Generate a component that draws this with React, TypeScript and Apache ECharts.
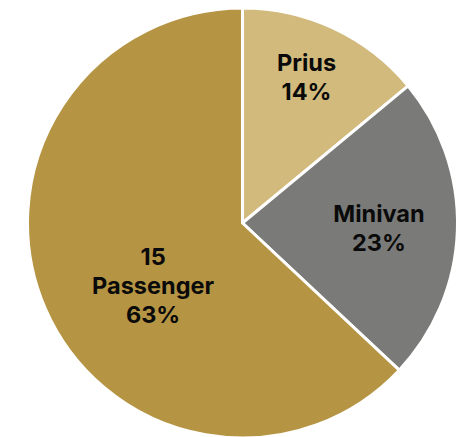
import React, { useEffect, useRef } from "react";
import * as echarts from "echarts";

const categories = ["Prius", "Minivan", "15\nPassenger"];
const values = [14, 23, 63];
const colors = ["#D2BA7D", "#7A7B79", "#B59543"];
const labelOffsets: number[][] = [[17, -46], [26, 2], [12, 19]];

export default function App() {
  const ref = useRef<HTMLDivElement>(null);
  useEffect(() => {
    if (!ref.current) return;
    const chart = echarts.init(ref.current, undefined, { renderer: "svg" });
    chart.setOption({
      animation: false,
      series: [
        {
          type: "pie",
          center: [242.5, 223],
          radius: 215,
          startAngle: 90,
          clockwise: true,
          avoidLabelOverlap: false,
          itemStyle: { borderColor: "#ffffff", borderWidth: 3 },
          label: {
            show: true,
            position: "inside",
            formatter: (p: any) => `${p.name}\n${p.value}%`,
            fontFamily: "Inter",
            fontWeight: "bold",
            fontSize: 23.5,
            lineHeight: 29,
            color: "#0a0a0a",
          },
          labelLine: { show: false },
          emphasis: { disabled: true },
          data: categories.map((c, i) => ({
            name: c,
            value: values[i],
            itemStyle: { color: colors[i] },
            label: { offset: labelOffsets[i] },
          })),
        },
      ],
    });
    return () => chart.dispose();
  }, []);
  return <div ref={ref} style={{ width: 472, height: 437, position: "absolute", left: 0, top: 0 }} />;
}
